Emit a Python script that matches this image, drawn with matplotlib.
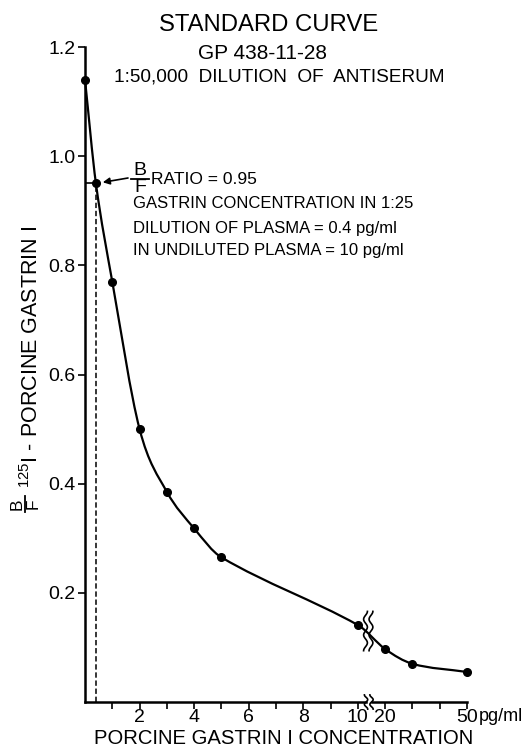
import numpy as np
import matplotlib
matplotlib.use('Agg')
import matplotlib.pyplot as plt
from matplotlib.path import Path
from matplotlib.patches import PathPatch
from matplotlib.lines import Line2D

plt.rcParams['font.family'] = ['Liberation Sans', 'DejaVu Sans']
plt.rcParams['mathtext.fontset'] = 'custom'
plt.rcParams['mathtext.rm'] = 'Liberation Sans'
plt.rcParams['mathtext.it'] = 'Liberation Sans'

## standard curve: concentration (pg/ml) and B/F ratio
conc = [0, 0.4, 1, 2, 3, 4, 5, 10, 20, 30, 50]
bf = [1.14, 0.95, 0.77, 0.50, 0.385, 0.318, 0.265, 0.141, 0.097, 0.070, 0.055]
## reading from the curve
read_bf = 0.95
read_conc = 0.4
xtick_vals = [2, 4, 6, 8, 10, 20, 50]
xminor_vals = [1, 3, 5, 7, 9, 30, 40]
ytick_vals = [0.2, 0.4, 0.6, 0.8, 1.0, 1.2]

W, H = 528., 750.


def fx(px):
    return px / W


def fy(py):
    return 1 - py / H


def xmap(v):
    ## linear up to 10, then 10 pg/ml per unit after the break
    v = np.asarray(v, dtype=float)
    return np.where(v <= 10, v, 10 + (v - 10) / 10.)


def smooth_path(x, y):
    ## cubic hermite with centred-difference tangents, drawn as bezier segments
    x = np.asarray(x, float); y = np.asarray(y, float)
    h = np.diff(x); d = np.diff(y) / h
    m = np.zeros_like(y)
    m[0] = d[0]; m[-1] = d[-1]
    m[1:-1] = (y[2:] - y[:-2]) / (x[2:] - x[:-2])
    verts = [(x[0], y[0])]
    codes = [Path.MOVETO]
    for i in range(len(x) - 1):
        verts += [(x[i] + h[i]/3, y[i] + m[i]*h[i]/3),
                  (x[i+1] - h[i]/3, y[i+1] - m[i+1]*h[i]/3),
                  (x[i+1], y[i+1])]
        codes += [Path.CURVE4]*3
    return Path(verts, codes)


def bf_fraction(fig, xc, yc, size, rot=False):
    ## hand-lettered B over F
    off = 0.62 * size
    if rot:
        fig.text(fx(xc - off), fy(yc), 'B', rotation=90, fontsize=size, ha='center', va='center')
        fig.text(fx(xc + off), fy(yc), 'F', rotation=90, fontsize=size, ha='center', va='center')
        fig.add_artist(Line2D([fx(xc), fx(xc)], [fy(yc - off), fy(yc + off)], color='k', lw=1.3))
    else:
        fig.text(fx(xc), fy(yc - off), 'B', fontsize=size, ha='center', va='center')
        fig.text(fx(xc), fy(yc + off), 'F', fontsize=size, ha='center', va='center')
        fig.add_artist(Line2D([fx(xc - off), fx(xc + off)], [fy(yc), fy(yc)], color='k', lw=1.3))


fig = plt.figure(figsize=(5.28, 7.5), dpi=100)
ax = fig.add_axes([0.161, 0.064, 0.7235, 0.8733])
xs = xmap(conc)
ax.add_patch(PathPatch(smooth_path(xs, bf), fc='none', ec='k', lw=1.6, clip_on=False))
ax.plot(xs, bf, 'o', color='k', ms=5.5, clip_on=False, zorder=5)

## reading lines
ax.plot([0, read_conc], [read_bf, read_bf], color='k', lw=1.2)
ax.plot([read_conc, read_conc], [0, read_bf], color='k', lw=1.1, ls=(0, (3.5, 1.8)))

ax.set_xlim(0, 14)
ax.set_ylim(0, 1.2)
for s in ['top', 'right', 'bottom']:
    ax.spines[s].set_visible(False)
ax.spines['left'].set_linewidth(1.8)

## x axis with break
ax.plot([0, 10.3], [0, 0], color='k', lw=1.8, clip_on=False)
ax.plot([10.5, 14], [0, 0], color='k', lw=1.8, clip_on=False)
t = np.linspace(-1, 1, 40)
for xb in [10.3, 10.5]:
    ax.plot(xb + 0.06*np.sin(t*np.pi*1.5), 0.013*t, color='k', lw=1.2, clip_on=False)
    ax.plot(xb - 0.02 + 0.07*np.sin(t*np.pi*2.5), 0.13 + 0.036*t, color='k', lw=1.2)

ax.set_xticks(xmap(xtick_vals))
ax.set_xticklabels(['%d' % v for v in xtick_vals], fontsize=14)
ax.set_xticks(xmap(xminor_vals), minor=True)
ax.tick_params(axis='x', which='both', direction='out', length=5, width=1.2, pad=0)
ax.text(14.45, -0.027, 'pg/ml', fontsize=13, ha='left', va='center', clip_on=False)
ax.set_yticks(ytick_vals)
ax.set_yticklabels(['%.1f' % v for v in ytick_vals], fontsize=14)
ax.tick_params(axis='y', direction='out', length=5, width=1.2, pad=2)

## y label: B/F 125I - PORCINE GASTRIN I
bf_fraction(fig, 25, 504, 12.5, rot=True)
fig.text(fx(38), fy(488), r'$^{125}$I - PORCINE GASTRIN I', rotation=90, rotation_mode='anchor',
         fontsize=15.5, ha='left', va='baseline')
fig.text(0.538, 0.002, 'PORCINE GASTRIN I CONCENTRATION', fontsize=14.6,
         ha='center', va='bottom')

fig.text(0.508, 0.967, 'STANDARD CURVE', fontsize=17.2, ha='center', va='center')
fig.text(0.498, 0.929, 'GP 438-11-28', fontsize=15, ha='center', va='center')
fig.text(0.528, 0.897, '1:50,000  DILUTION  OF  ANTISERUM', fontsize=13.7, ha='center', va='center')

## reading annotation
ax.annotate('', xy=(read_conc, read_bf), xytext=(fx(128), fy(178)), textcoords='figure fraction',
            arrowprops=dict(arrowstyle='-|>', color='k', lw=1.2, shrinkA=0, shrinkB=5))
bf_fraction(fig, 140, 179, 14)
fig.text(fx(151), fy(180), 'RATIO = 0.95', fontsize=12.5, va='center')
fig.text(fx(133), fy(204), 'GASTRIN CONCENTRATION IN 1:25', fontsize=12, va='center')
fig.text(fx(133), fy(229), 'DILUTION OF PLASMA = 0.4 pg/ml', fontsize=12, va='center')
fig.text(fx(133), fy(251), 'IN UNDILUTED PLASMA = 10 pg/ml', fontsize=12, va='center')

fig.savefig('out.png', dpi=100)
